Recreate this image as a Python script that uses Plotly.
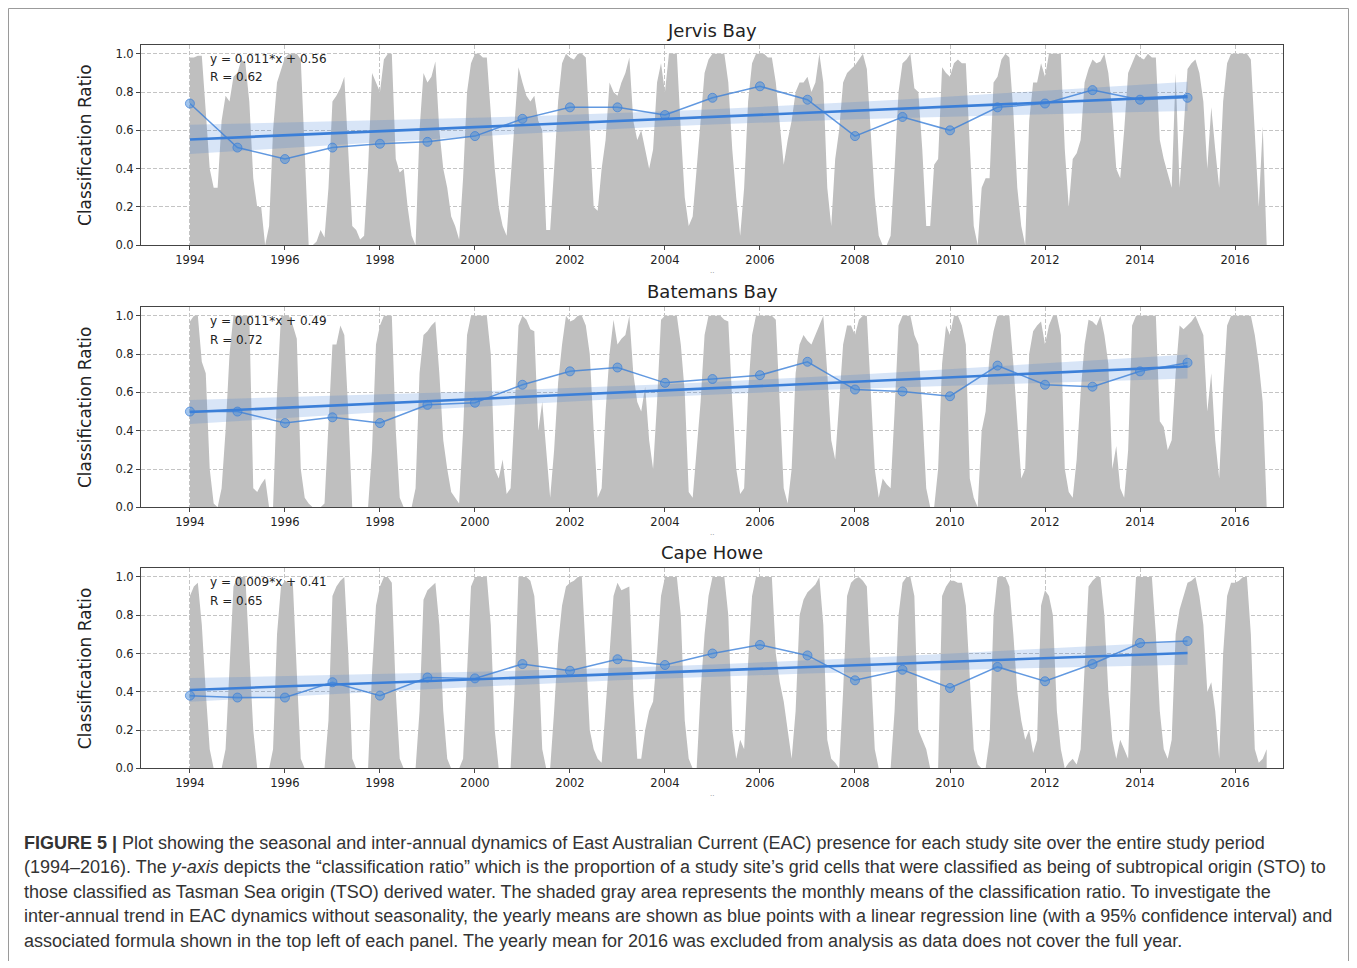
import numpy as np
import plotly.graph_objects as go

# ---------------- data ----------------
site_names = ["Jervis Bay", "Batemans Bay", "Cape Howe"]
equations = ["y = 0.011*x + 0.56", "y = 0.011*x + 0.49", "y = 0.009*x + 0.41"]
r_values = ["R = 0.62", "R = 0.72", "R = 0.65"]

years = list(range(1994, 2016))
tick_years = list(range(1994, 2017, 2))
y_ticks = [0.0, 0.2, 0.4, 0.6, 0.8, 1.0]

jervis_yearly = [0.74, 0.51, 0.45, 0.51, 0.53, 0.54, 0.57, 0.66, 0.72, 0.72, 0.68,
                 0.77, 0.83, 0.76, 0.57, 0.67, 0.60, 0.72, 0.74, 0.81, 0.76, 0.77]
batemans_yearly = [0.50, 0.50, 0.44, 0.47, 0.44, 0.535, 0.546, 0.64, 0.71, 0.73, 0.65,
                   0.67, 0.69, 0.76, 0.615, 0.605, 0.58, 0.74, 0.64, 0.63, 0.71, 0.755]
cape_yearly = [0.38, 0.37, 0.37, 0.45, 0.38, 0.475, 0.47, 0.545, 0.51, 0.57, 0.54,
               0.60, 0.645, 0.59, 0.46, 0.515, 0.42, 0.53, 0.455, 0.545, 0.655, 0.665]

# monthly means, Jan 1994 onward
jervis_monthly = [
    0.98, 0.98, 0.99, 0.99, 0.70, 0.40, 0.30, 0.30, 0.65, 0.78, 0.75, 0.88,
    0.90, 0.97, 0.95, 0.75, 0.35, 0.20, 0.20, 0.00, 0.10, 0.60, 0.85, 0.92,
    0.98, 1.00, 1.00, 1.00, 0.97, 0.50, 0.00, 0.00, 0.02, 0.08, 0.04, 0.30,
    0.75, 0.78, 0.82, 0.88, 0.50, 0.10, 0.08, 0.03, 0.05, 0.40, 0.90, 0.85,
    0.80, 0.97, 1.00, 1.00, 0.45, 0.38, 0.40, 0.20, 0.05, 0.00, 0.60, 0.90,
    0.85, 0.88, 0.96, 0.60, 0.40, 0.30, 0.15, 0.10, 0.03, 0.35, 0.80, 0.95,
    1.00, 1.00, 0.98, 0.98, 0.70, 0.40, 0.20, 0.10, 0.05, 0.35, 0.65, 0.93,
    0.85, 0.78, 0.75, 0.78, 0.65, 0.60, 0.08, 0.08, 0.40, 0.75, 0.95, 1.00,
    0.98, 0.97, 1.00, 1.00, 0.98, 0.60, 0.20, 0.18, 0.40, 0.55, 0.85, 0.80,
    0.78, 0.85, 0.90, 0.98, 0.65, 0.55, 0.60, 0.50, 0.40, 0.50, 0.85, 0.95,
    0.80, 1.00, 1.00, 1.00, 0.60, 0.25, 0.10, 0.15, 0.40, 0.65, 0.90, 0.97,
    1.00, 1.00, 1.00, 1.00, 0.85, 0.50, 0.25, 0.05, 0.30, 0.75, 0.95, 1.00,
    1.00, 1.00, 0.98, 0.98, 0.85, 0.65, 0.42, 0.55, 0.65, 0.80, 0.85, 0.85,
    0.88, 0.80, 0.85, 1.00, 0.85, 0.30, 0.10, 0.45, 0.60, 0.85, 0.90, 0.92,
    0.94, 0.97, 1.00, 0.92, 0.55, 0.25, 0.05, 0.00, 0.00, 0.05, 0.40, 0.80,
    0.95, 0.97, 1.00, 0.82, 0.80, 0.50, 0.10, 0.10, 0.42, 0.45, 0.93, 0.90,
    0.88, 0.95, 0.97, 0.95, 0.95, 0.50, 0.10, 0.00, 0.30, 0.35, 0.35, 0.85,
    0.88, 0.97, 1.00, 0.98, 0.70, 0.30, 0.10, 0.00, 0.65, 0.85, 0.85, 0.95,
    0.88, 1.00, 1.00, 1.00, 1.00, 0.50, 0.20, 0.45, 0.48, 0.55, 0.85, 0.92,
    0.97, 0.95, 0.96, 1.00, 0.90, 0.70, 0.40, 0.35, 0.60, 0.90, 0.95, 1.00,
    0.98, 0.97, 1.00, 0.98, 0.98, 0.55, 0.45, 0.38, 0.30, 0.90, 0.30, 0.60,
    0.92, 0.95, 0.97, 0.90, 0.75, 0.40, 0.72, 0.50, 0.30, 0.75, 0.95, 1.00,
    1.00, 1.00, 1.00, 1.00, 0.97, 0.60, 0.20, 0.62, 0.00,
]
batemans_monthly = [
    0.97, 1.00, 1.00, 0.76, 0.70, 0.20, 0.02, 0.00, 0.10, 0.40, 0.80, 1.00,
    1.00, 1.00, 1.00, 1.00, 0.10, 0.08, 0.12, 0.15, 0.00, 0.00, 0.60, 1.00,
    1.00, 1.00, 0.95, 0.88, 0.20, 0.05, 0.02, 0.00, 0.00, 0.00, 0.02, 0.40,
    0.85, 0.85, 0.95, 0.90, 0.50, 0.00, 0.00, 0.00, 0.00, 0.00, 0.30, 0.85,
    0.95, 1.00, 1.00, 1.00, 0.40, 0.05, 0.00, 0.00, 0.00, 0.10, 0.70, 0.90,
    0.92, 0.95, 0.97, 0.70, 0.35, 0.20, 0.08, 0.05, 0.02, 0.40, 0.90, 1.00,
    1.00, 1.00, 1.00, 1.00, 0.80, 0.20, 0.15, 0.25, 0.07, 0.10, 0.50, 0.95,
    1.00, 0.98, 0.93, 0.92, 0.40, 0.55, 0.30, 0.05, 0.30, 0.65, 0.85, 1.00,
    0.97, 0.98, 1.00, 1.00, 0.95, 0.80, 0.40, 0.05, 0.10, 0.50, 0.80, 0.98,
    0.85, 0.88, 0.90, 1.00, 0.70, 0.55, 0.50, 0.63, 0.35, 0.20, 0.55, 0.98,
    1.00, 1.00, 1.00, 1.00, 0.85, 0.60, 0.08, 0.05, 0.30, 0.55, 0.90, 1.00,
    1.00, 1.00, 1.00, 0.98, 0.97, 0.55, 0.20, 0.07, 0.10, 0.60, 0.90, 1.00,
    1.00, 1.00, 1.00, 1.00, 0.98, 0.50, 0.10, 0.02, 0.20, 0.70, 0.85, 0.90,
    0.87, 0.85, 0.90, 0.95, 1.00, 0.70, 0.35, 0.25, 0.55, 0.85, 0.95, 0.95,
    0.90, 0.98, 1.00, 1.00, 0.60, 0.20, 0.05, 0.15, 0.12, 0.10, 0.50, 0.95,
    1.00, 1.00, 1.00, 0.90, 0.85, 0.50, 0.10, 0.00, 0.00, 0.20, 0.75, 0.95,
    0.90, 1.00, 1.00, 0.95, 0.85, 0.15, 0.05, 0.00, 0.40, 0.50, 0.80, 0.92,
    1.00, 1.00, 1.00, 1.00, 0.75, 0.45, 0.15, 0.20, 0.80, 0.92, 0.95, 0.97,
    0.85, 0.95, 1.00, 1.00, 0.90, 0.20, 0.08, 0.05, 0.25, 0.60, 0.85, 0.98,
    0.97, 0.95, 1.00, 0.90, 0.75, 0.20, 0.32, 0.10, 0.05, 0.30, 0.95, 1.00,
    1.00, 1.00, 1.00, 1.00, 1.00, 0.45, 0.42, 0.30, 0.35, 0.70, 0.95, 0.93,
    0.95, 0.97, 1.00, 0.95, 0.90, 0.50, 0.70, 0.35, 0.15, 0.60, 0.95, 1.00,
    1.00, 1.00, 1.00, 1.00, 1.00, 0.90, 0.75, 0.55, 0.00,
]
cape_monthly = [
    0.90, 0.95, 0.97, 0.75, 0.40, 0.10, 0.00, 0.00, 0.00, 0.10, 0.50, 0.95,
    1.00, 1.00, 1.00, 0.60, 0.20, 0.00, 0.00, 0.00, 0.00, 0.10, 0.70, 0.95,
    0.98, 0.97, 0.97, 0.50, 0.05, 0.00, 0.00, 0.00, 0.00, 0.00, 0.00, 0.25,
    0.90, 0.95, 0.98, 1.00, 0.60, 0.05, 0.00, 0.00, 0.00, 0.00, 0.50, 0.85,
    0.95, 1.00, 1.00, 0.97, 0.40, 0.05, 0.00, 0.00, 0.00, 0.00, 0.30, 0.88,
    0.93, 0.95, 0.97, 0.75, 0.30, 0.05, 0.00, 0.00, 0.00, 0.05, 0.50, 0.95,
    1.00, 1.00, 1.00, 1.00, 0.75, 0.20, 0.00, 0.00, 0.00, 0.00, 0.40, 1.00,
    1.00, 1.00, 0.98, 0.90, 0.60, 0.10, 0.00, 0.00, 0.30, 0.65, 0.85, 0.95,
    0.97, 0.98, 1.00, 1.00, 0.60, 0.20, 0.10, 0.05, 0.03, 0.30, 0.60, 0.90,
    0.97, 0.93, 0.94, 0.95, 0.40, 0.05, 0.05, 0.20, 0.30, 0.35, 0.60, 0.90,
    1.00, 1.00, 1.00, 1.00, 0.80, 0.25, 0.05, 0.00, 0.00, 0.40, 0.70, 0.90,
    1.00, 1.00, 1.00, 1.00, 0.80, 0.20, 0.05, 0.15, 0.10, 0.55, 0.90, 1.00,
    1.00, 1.00, 1.00, 1.00, 0.60, 0.45, 0.35, 0.20, 0.05, 0.30, 0.80, 0.88,
    0.92, 0.94, 0.96, 1.00, 0.75, 0.15, 0.05, 0.03, 0.00, 0.40, 0.90, 0.97,
    0.99, 1.00, 0.98, 0.95, 0.55, 0.10, 0.00, 0.00, 0.00, 0.00, 0.30, 0.80,
    0.97, 1.00, 1.00, 0.90, 0.20, 0.15, 0.10, 0.00, 0.00, 0.00, 0.90, 0.95,
    0.98, 0.98, 0.97, 0.97, 0.85, 0.50, 0.10, 0.02, 0.00, 0.00, 0.15, 0.80,
    1.00, 1.00, 1.00, 0.95, 0.70, 0.40, 0.25, 0.15, 0.20, 0.08, 0.15, 0.85,
    0.93, 0.90, 0.80, 0.30, 0.10, 0.00, 0.03, 0.05, 0.02, 0.10, 0.50, 0.95,
    0.98, 1.00, 1.00, 0.80, 0.40, 0.15, 0.05, 0.15, 0.10, 0.05, 0.65, 1.00,
    1.00, 1.00, 1.00, 1.00, 0.70, 0.30, 0.10, 0.05, 0.15, 0.70, 0.83, 0.90,
    0.97, 0.98, 1.00, 0.90, 0.75, 0.40, 0.45, 0.30, 0.05, 0.60, 0.90, 0.97,
    0.97, 0.98, 1.00, 1.00, 0.70, 0.10, 0.03, 0.05, 0.10,
]

monthly_sets = [jervis_monthly, batemans_monthly, cape_monthly]
yearly_sets = [jervis_yearly, batemans_yearly, cape_yearly]

caption_lines = [
    "<b>FIGURE 5 |</b> Plot showing the seasonal and inter-annual dynamics of East Australian Current (EAC) presence for each study site over the entire study period",
    "(1994–2016). The <i>y-axis</i> depicts the “classification ratio” which is the proportion of a study site’s grid cells that were classified as being of subtropical origin (STO) to",
    "those classified as Tasman Sea origin (TSO) derived water. The shaded gray area represents the monthly means of the classification ratio. To investigate the",
    "inter-annual trend in EAC dynamics without seasonality, the yearly means are shown as blue points with a linear regression line (with a 95% confidence interval) and",
    "associated formula shown in the top left of each panel. The yearly mean for 2016 was excluded from analysis as data does not cover the full year.",
]

# ---------------- layout geometry (page pixels; page body has an 8px margin) ----------------
OFF = 8
W, H = 1357 - 2 * OFF, 968 - OFF
PL, PR = 141 - OFF, 1283 - OFF
panel_px = [(45 - OFF, 247 - OFF), (309 - OFF, 511 - OFF), (572 - OFF, 774 - OFF)]
title_px = [31 - OFF, 294 - OFF, 557 - OFF]
caption_y = [c - OFF for c in [849, 873, 898, 923, 948]]
ylabel_x = 85 - OFF
caption_x = 22 - OFF

GRAY = "#bfbfbf"
BLUE = "#3b7fd8"
FONT = "DejaVu Sans"

fig = go.Figure()
annotations = []
layout_axes = {}

for i in range(3):
    ax = "" if i == 0 else str(i + 1)
    xref, yref = "x" + ax, "y" + ax
    monthly = np.array(monthly_sets[i])
    mx = 1994 + np.arange(len(monthly)) / 12.0
    yearly = np.array(yearly_sets[i])
    yx = np.array(years, dtype=float)

    fig.add_trace(go.Scatter(x=mx, y=monthly, mode="lines", fill="tozeroy",
                             line=dict(width=0, color=GRAY), fillcolor=GRAY,
                             xaxis=xref, yaxis=yref, showlegend=False, hoverinfo="skip"))

    # regression + 95% CI
    idx = yx - yx[0]
    slope, intercept = np.polyfit(idx, yearly, 1)
    fit = slope * idx + intercept
    n = len(idx)
    resid = yearly - fit
    s = np.sqrt(np.sum(resid ** 2) / (n - 2))
    sxx = np.sum((idx - idx.mean()) ** 2)
    se = s * np.sqrt(1.0 / n + (idx - idx.mean()) ** 2 / sxx)
    tval = 2.086
    upper = fit + tval * se
    lower = fit - tval * se

    fig.add_trace(go.Scatter(x=np.concatenate([yx, yx[::-1]]),
                             y=np.concatenate([upper, lower[::-1]]),
                             fill="toself", fillcolor="rgba(59,127,216,0.2)",
                             line=dict(width=0), mode="lines",
                             xaxis=xref, yaxis=yref, showlegend=False, hoverinfo="skip"))
    fig.add_trace(go.Scatter(x=yx, y=yearly, mode="lines+markers",
                             line=dict(color="rgba(59,127,216,0.8)", width=1.5),
                             marker=dict(size=9, color="rgba(70,140,220,0.5)",
                                         line=dict(width=1, color="rgba(59,127,216,0.7)")),
                             xaxis=xref, yaxis=yref, showlegend=False))
    fig.add_trace(go.Scatter(x=yx, y=fit, mode="lines",
                             line=dict(color=BLUE, width=2.6),
                             xaxis=xref, yaxis=yref, showlegend=False))

    top, bot = panel_px[i]
    common = dict(ticks="outside", ticklen=4, tickcolor="#444",
                  tickfont=dict(family=FONT, size=11.5, color="#222"),
                  showgrid=True, gridcolor="#c4c4c4", griddash="4px,2px", gridwidth=1,
                  showline=True, linecolor="#444", linewidth=1, mirror=True, zeroline=False)
    layout_axes["xaxis" + ax] = dict(
        domain=[PL / W, PR / W], range=[1992.97, 2017.01], anchor=yref,
        tickmode="array", tickvals=tick_years, ticktext=[str(t) for t in tick_years], **common)
    layout_axes["yaxis" + ax] = dict(
        domain=[1 - bot / H, 1 - top / H], range=[0, 1.047], anchor=xref,
        tickmode="array", tickvals=y_ticks, ticktext=["%.1f" % v for v in y_ticks], **common)

    annotations.append(dict(text=site_names[i], x=(PL + PR) / 2 / W, y=1 - title_px[i] / H,
                            xref="paper", yref="paper", showarrow=False,
                            font=dict(family=FONT, size=18, color="#222"),
                            xanchor="center", yanchor="middle"))
    annotations.append(dict(text="Classification Ratio", x=ylabel_x / W, y=1 - (top + bot) / 2 / H,
                            xref="paper", yref="paper", showarrow=False, textangle=-90,
                            font=dict(family=FONT, size=17, color="#222"),
                            xanchor="center", yanchor="middle"))
    annotations.append(dict(text=equations[i], x=1994.38, y=0.974, xref=xref, yref=yref,
                            showarrow=False, font=dict(family=FONT, size=12, color="#222"),
                            xanchor="left", yanchor="middle"))
    annotations.append(dict(text=r_values[i], x=1994.38, y=0.876, xref=xref, yref=yref,
                            showarrow=False, font=dict(family=FONT, size=12, color="#222"),
                            xanchor="left", yanchor="middle"))
    annotations.append(dict(text="..", x=(PL + PR) / 2 / W, y=1 - (bot + 26) / H,
                            xref="paper", yref="paper", showarrow=False,
                            font=dict(family=FONT, size=7, color="#888"),
                            xanchor="center", yanchor="middle"))

for k, line in enumerate(caption_lines):
    annotations.append(dict(text=line, x=caption_x / W, y=1 - caption_y[k] / H,
                            xref="paper", yref="paper", showarrow=False,
                            font=dict(family="Liberation Sans", size=18, color="#333"),
                            xanchor="left", yanchor="middle"))

border = dict(color="#9a9a9a", width=1)
x_l, x_r, y_t = 0.5 / W, (W - 0.5) / W, 1 - 0.5 / H
shapes = [
    dict(type="line", xref="paper", yref="paper", x0=x_l, x1=x_l, y0=0, y1=y_t, line=border),
    dict(type="line", xref="paper", yref="paper", x0=x_r, x1=x_r, y0=0, y1=y_t, line=border),
    dict(type="line", xref="paper", yref="paper", x0=x_l, x1=x_r, y0=y_t, y1=y_t, line=border),
]

fig.update_layout(
    width=W, height=H, margin=dict(l=0, r=0, t=0, b=0),
    paper_bgcolor="white", plot_bgcolor="white",
    annotations=annotations, shapes=shapes,
    **layout_axes,
)

fig.write_html("out.html")
